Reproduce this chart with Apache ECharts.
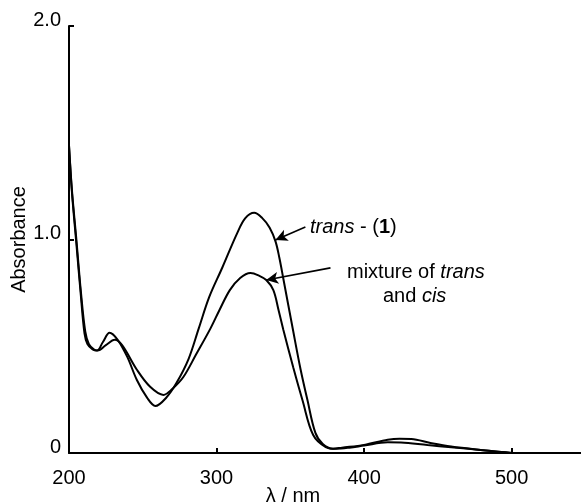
<!DOCTYPE html>
<html>
<head>
<meta charset="utf-8">
<script src="https://cdn.jsdelivr.net/npm/echarts@6/dist/echarts.min.js"></script>
<style>
html,body{margin:0;padding:0;background:#fff;}
#chart{width:581px;height:504px;}
</style>
</head>
<body>
<div id="chart"></div>
<script>
// Wavelengths (nm) and absorbance for trans-(1)
var transX = [200, 202, 205, 208, 210.5, 212.5, 216, 219, 223, 227.5, 233, 239.5, 246, 253, 258.5, 266, 273, 281, 288, 295, 304, 314, 319.5, 325.5, 331, 336, 340, 342.6, 345.3, 352, 357, 361.6, 367, 372, 379, 385, 400, 416, 424, 432, 445, 459, 479, 493, 500];
var transY = [1.44, 1.22, 0.98, 0.74, 0.56, 0.51, 0.485, 0.48, 0.52, 0.563, 0.53, 0.45, 0.342, 0.258, 0.22, 0.26, 0.33, 0.44, 0.585, 0.73, 0.87, 1.03, 1.10, 1.125, 1.10, 1.055, 0.99, 0.913, 0.815, 0.569, 0.39, 0.248, 0.094, 0.042, 0.02, 0.025, 0.038, 0.062, 0.067, 0.066, 0.047, 0.03, 0.014, 0.005, 0.0];
// Wavelengths (nm) and absorbance for mixture of trans and cis
var mixX = [200, 202, 205, 208, 211, 213.5, 217, 219.5, 225, 231, 236, 246, 255, 264, 270, 277.5, 286, 296, 302, 309, 316, 323, 329, 333.7, 338.5, 342, 345.3, 352, 358.2, 365.5, 374, 381, 390, 400, 416, 425, 443, 459, 479, 493, 500];
var mixY = [1.44, 1.23, 1.0, 0.76, 0.57, 0.51, 0.485, 0.48, 0.505, 0.53, 0.505, 0.39, 0.31, 0.272, 0.30, 0.356, 0.46, 0.585, 0.67, 0.763, 0.82, 0.843, 0.83, 0.81, 0.763, 0.67, 0.576, 0.40, 0.248, 0.084, 0.028, 0.02, 0.025, 0.035, 0.05, 0.049, 0.037, 0.027, 0.014, 0.005, 0.0];
// Axis ticks
var xTicks = [200, 300, 400, 500];
var yTicks = [0, 1, 2];
var xName = 'λ / nm';
var yName = 'Absorbance';
// Annotation arrows (data coordinates: start -> arrow tip)
var transArrow = [[360.2, 1.059], [339.9, 0.998]];
var mixArrow = [[377.2, 0.867], [333.7, 0.81]];

function zip(a, b) { return a.map(function (v, i) { return [v, b[i]]; }); }

var FONT = '"Liberation Sans", Arial, Helvetica, sans-serif';
var chart = echarts.init(document.getElementById('chart'), null, {renderer: 'canvas'});
var arrowLine = {color: '#000', width: 1.6, type: 'solid'};
chart.setOption({
  animation: false,
  backgroundColor: '#fff',
  grid: {left: 69, right: 0, top: 26, bottom: 51, outerBoundsMode: 'none', containLabel: false},
  xAxis: {
    type: 'value', min: 200, max: 547, interval: 100,
    name: xName, nameLocation: 'middle', nameGap: 33, nameMoveOverlap: false,
    nameTextStyle: {fontFamily: FONT, fontSize: 20, color: '#000', padding: [0, 64, 0, 0]},
    axisLine: {show: true, lineStyle: {color: '#000', width: 2}},
    axisTick: {show: true, inside: true, length: 5, lineStyle: {color: '#000', width: 2}},
    axisLabel: {fontFamily: FONT, fontSize: 20, color: '#000', margin: 15, showMaxLabel: false,
      formatter: function (v) { return xTicks.indexOf(v) >= 0 ? String(v) : ''; }},
    splitLine: {show: false}
  },
  yAxis: {
    type: 'value', min: 0, max: 2, interval: 1,
    name: yName, nameLocation: 'middle', nameGap: 40, nameRotate: 90, nameMoveOverlap: false,
    nameTextStyle: {fontFamily: FONT, fontSize: 20, color: '#000'},
    axisLine: {show: true, lineStyle: {color: '#000', width: 2}},
    axisTick: {show: true, inside: true, length: 5, lineStyle: {color: '#000', width: 2}},
    axisLabel: {fontFamily: FONT, fontSize: 20, color: '#000', margin: 8,
      formatter: function (v) { return yTicks.indexOf(v) >= 0 ? '{t|' + (v === 0 ? '0' : v.toFixed(1)) + '}' : ''; },
      rich: {t: {fontFamily: FONT, fontSize: 20, color: '#000', padding: [0, 0, 12, 0]}}},
    splitLine: {show: false}
  },
  series: [
    {
      name: 'trans - (1)', type: 'line', data: zip(transX, transY),
      smooth: 0.35, showSymbol: false,
      lineStyle: {color: '#000', width: 2},
      markLine: {
        silent: true, symbol: ['none', 'arrow'], symbolSize: [9, 12],
        lineStyle: arrowLine, label: {show: false},
        data: [
          [{coord: transArrow[0]}, {coord: transArrow[1]}],
          [{coord: mixArrow[0]}, {coord: mixArrow[1]}]
        ]
      }
    },
    {
      name: 'mixture of trans and cis', type: 'line', data: zip(mixX, mixY),
      smooth: 0.35, showSymbol: false,
      lineStyle: {color: '#000', width: 2}
    }
  ],
  graphic: [
    {type: 'text', x: 310, y: 227, style: {
      text: '{i|trans} - ({b|1})', fill: '#000', font: '20px ' + FONT, verticalAlign: 'middle',
      rich: {i: {fontStyle: 'italic', fontSize: 20, fontFamily: FONT}, b: {fontWeight: 'bold', fontSize: 20, fontFamily: FONT}}
    }},
    {type: 'text', x: 347, y: 272, style: {
      text: 'mixture of {i|trans}', fill: '#000', font: '20px ' + FONT, verticalAlign: 'middle',
      rich: {i: {fontStyle: 'italic', fontSize: 20, fontFamily: FONT}}
    }},
    {type: 'text', x: 383, y: 296, style: {
      text: 'and {i|cis}', fill: '#000', font: '20px ' + FONT, verticalAlign: 'middle',
      rich: {i: {fontStyle: 'italic', fontSize: 20, fontFamily: FONT}}
    }}
  ]
});
</script>
</body>
</html>
